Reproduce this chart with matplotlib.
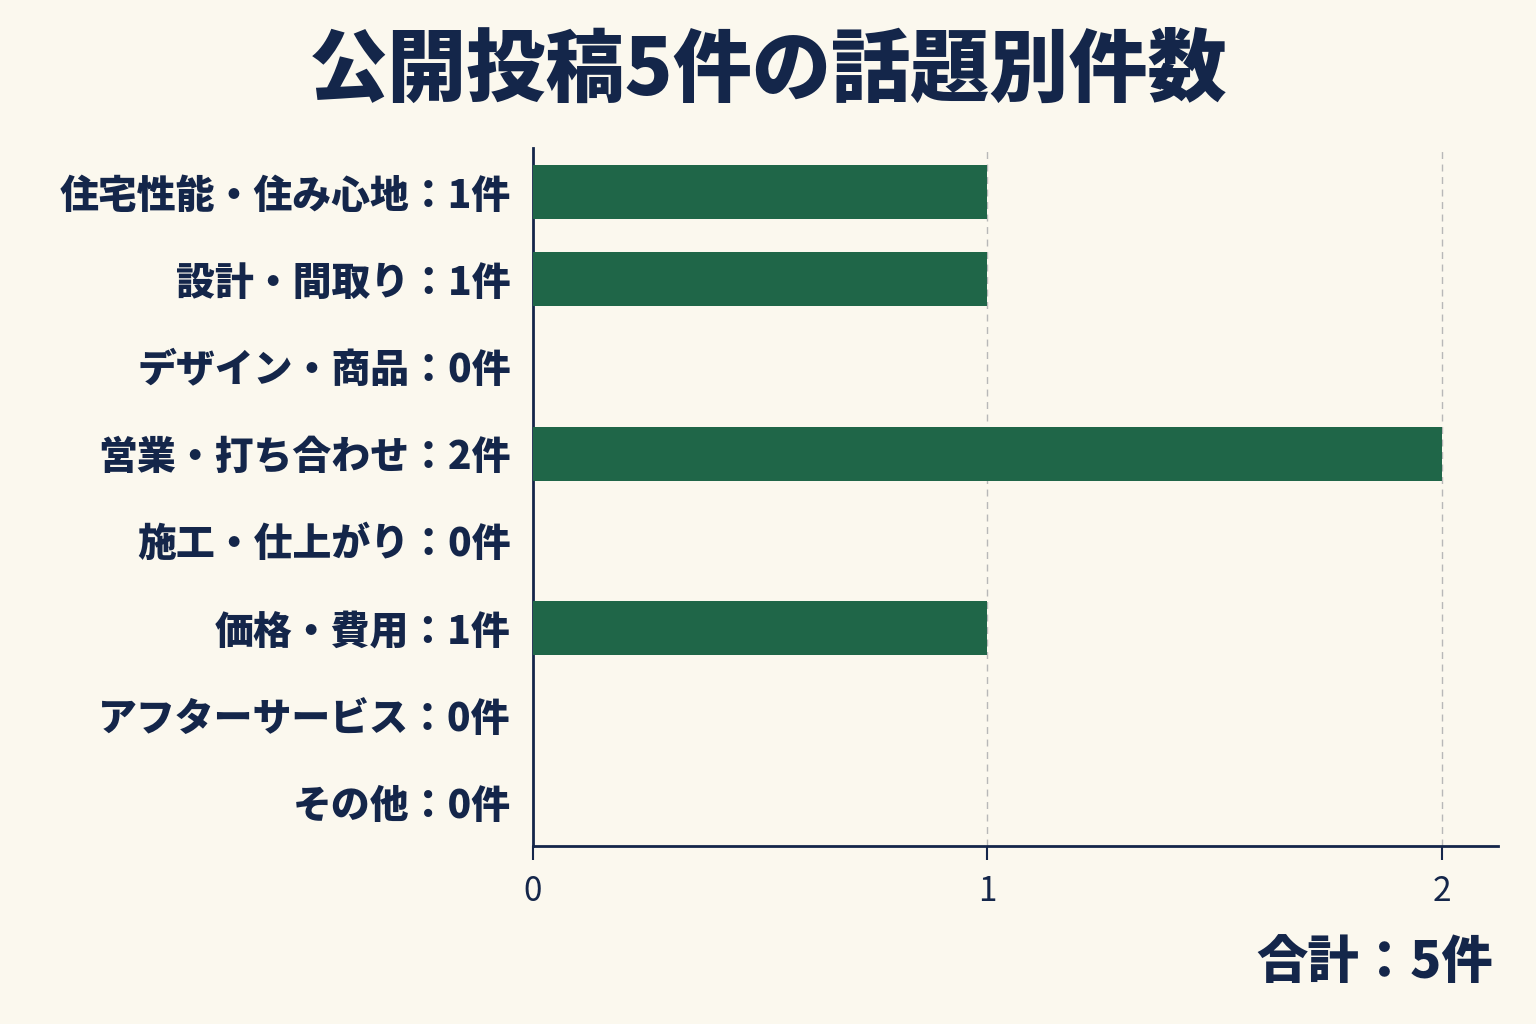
import matplotlib
matplotlib.use("Agg")
import matplotlib.pyplot as plt

plt.rcParams["font.family"] = ["Noto Sans CJK JP", "DejaVu Sans"]

BG = "#FBF8EE"
NAVY = "#14264A"
GREEN = "#1F6648"

TITLE = "公開投稿5件の話題別件数"
topics = [
    "住宅性能・住み心地",
    "設計・間取り",
    "デザイン・商品",
    "営業・打ち合わせ",
    "施工・仕上がり",
    "価格・費用",
    "アフターサービス",
    "その他",
]
counts = [1, 1, 0, 2, 0, 1, 0, 0]
x_ticks = [0, 1, 2]

labels = [f"{t}：{c}件" for t, c in zip(topics, counts)]
total = sum(counts)

fig = plt.figure(figsize=(15.36, 10.24), dpi=100, facecolor=BG)
ax = fig.add_axes([0.347, 0.174, 0.628, 0.681])
ax.set_facecolor(BG)

ypos = list(range(len(topics)))
ax.barh(ypos, counts, height=0.62, color=GREEN, zorder=3)
ax.set_ylim(len(topics) - 0.5, -0.5)
ax.set_xlim(0, 2.123)

ax.set_yticks(ypos)
ax.set_yticklabels(labels, fontsize=28, fontweight="heavy", color=NAVY)
ax.tick_params(axis="y", length=0, pad=16)

ax.set_xticks(x_ticks)
ax.set_xticklabels([str(v) for v in x_ticks], fontsize=24, color=NAVY)
ax.tick_params(axis="x", length=10, width=1.5, color=NAVY, pad=10)

for v in x_ticks[1:]:
    ax.axvline(v, color="#B8B8B8", linestyle=(0, (5, 4)), linewidth=1, zorder=1)

for side in ["top", "right"]:
    ax.spines[side].set_visible(False)
for side in ["left", "bottom"]:
    ax.spines[side].set_color(NAVY)
    ax.spines[side].set_linewidth(2)

fig.text(0.5, 0.93, TITLE, ha="center", va="center", fontsize=57,
         fontweight="black", color=NAVY)
fig.text(0.972, 0.06, f"合計：{total}件", ha="right", va="center", fontsize=37,
         fontweight="black", color=NAVY)

fig.savefig("out.png", dpi=100, facecolor=BG)
